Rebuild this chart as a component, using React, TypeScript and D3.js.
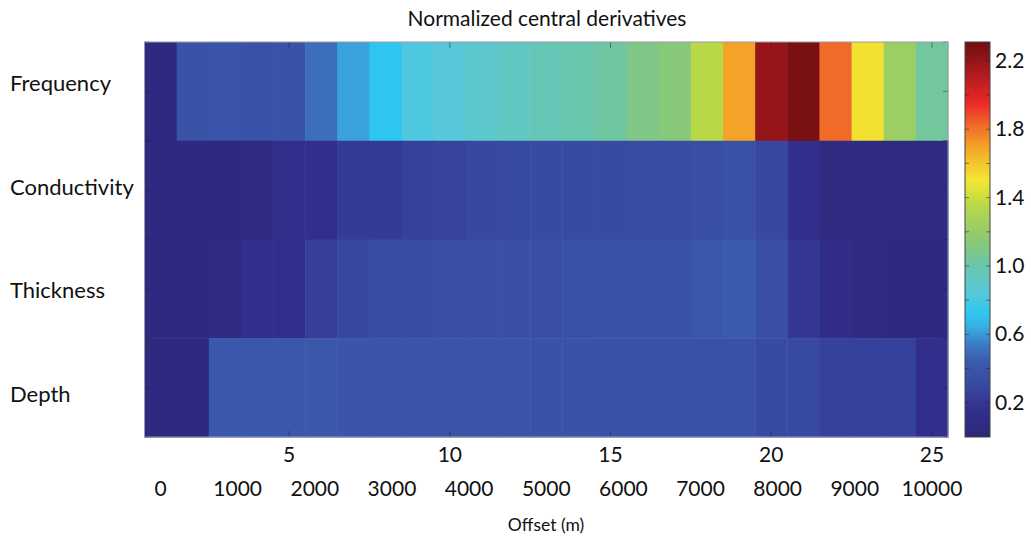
import React from "react";
import * as d3 from "d3";

const rowLabels = ["Frequency", "Conductivity", "Thickness", "Depth"];
const columns = d3.range(1, 26);
const frequency = [0.05, 0.38, 0.4, 0.37, 0.38, 0.5, 0.62, 0.72, 0.82, 0.85, 0.89, 0.93, 0.97, 1.0, 1.03, 1.1, 1.13, 1.35, 1.7, 2.2, 2.28, 1.82, 1.52, 1.22, 1.04];
const conductivity = [0.05, 0.06, 0.06, 0.07, 0.14, 0.15, 0.22, 0.22, 0.26, 0.27, 0.3, 0.31, 0.32, 0.32, 0.32, 0.33, 0.33, 0.35, 0.37, 0.3, 0.14, 0.07, 0.07, 0.07, 0.07];
const thickness = [0.06, 0.06, 0.07, 0.14, 0.15, 0.24, 0.3, 0.33, 0.34, 0.35, 0.35, 0.36, 0.36, 0.37, 0.37, 0.37, 0.38, 0.42, 0.44, 0.35, 0.2, 0.12, 0.07, 0.06, 0.06];
const depth = [0.05, 0.06, 0.42, 0.42, 0.41, 0.41, 0.4, 0.4, 0.4, 0.39, 0.39, 0.39, 0.38, 0.38, 0.37, 0.37, 0.37, 0.37, 0.37, 0.32, 0.31, 0.26, 0.26, 0.26, 0.15];
const series = [frequency, conductivity, thickness, depth];
const xTicks = [5, 10, 15, 20, 25];
const offsetTicks = [0, 1000, 2000, 3000, 4000, 5000, 6000, 7000, 8000, 9000, 10000];
const colorTicks = [0.2, 0.6, 1.0, 1.4, 1.8, 2.2];
const colorMinorTicks = [0.2, 0.4, 0.6, 0.8, 1.0, 1.2, 1.4, 1.6, 1.8, 2.0, 2.2];
const cmapStops = [0.0, 0.15, 0.3, 0.45, 0.55, 0.65, 0.72, 0.85, 1.0, 1.15, 1.35, 1.5, 1.7, 1.82, 1.95, 2.1, 2.31];
const cmapColors = ["#2c2878", "#322e8c", "#3848a0", "#3b5cae", "#3c80c8", "#38b0e4", "#2ec6f0", "#58c8d8", "#68c6ac", "#8cc874", "#b8d848", "#f2e832", "#f5a228", "#f06a28", "#ec2a26", "#b81c20", "#6e0e10"];

const FONT = "Lato, 'Open Sans', sans-serif";

export default function App() {
  const W = 1031, H = 538;
  const plot = { left: 144.5, right: 948, top: 42, bottom: 437 };
  const x = d3.scaleLinear().domain([0.5, 25.5]).range([plot.left, plot.right]);
  const y = d3.scaleLinear().domain([0.5, 4.5]).range([plot.top, plot.bottom]);
  const offsetToCol = d3.scaleLinear().domain([0, 10000]).range([1, 25]);
  const labelY = d3.scalePoint<string>().domain(rowLabels).range([84, 395]);
  const color = d3.scaleLinear<string>().domain(cmapStops).range(cmapColors).interpolate(d3.interpolateRgb).clamp(true);
  const cb = { left: 965, right: 990 };
  const cy = d3.scaleLinear().domain([0, 2.31]).range([plot.bottom, plot.top]);
  const cellW = x(1.5) - x(0.5);
  const cellH = y(1.5) - y(0.5);
  const yTickVals = d3.range(0.5, 4.51, 0.5);

  return (
    <svg width={W} height={H} style={{ position: "absolute", left: 0, top: 0, background: "#fff" }}>
      <defs>
        <linearGradient id="cbar" x1="0" y1="1" x2="0" y2="0">
          {cmapStops.map((s, i) => (
            <stop key={i} offset={s / 2.31} stopColor={cmapColors[i]} />
          ))}
        </linearGradient>
      </defs>
      <text x={547} y={26} textAnchor="middle" fontFamily={FONT} fontSize={21} fill="#111">
        Normalized central derivatives
      </text>
      {series.map((vals, r) =>
        vals.map((v, c) => (
          <rect
            key={`${r}-${c}`}
            x={x(columns[c]) - cellW / 2}
            y={y(r + 1) - cellH / 2}
            width={cellW + 0.5}
            height={cellH + 0.5}
            fill={color(v)}
          />
        ))
      )}
      {xTicks.map((t) => (
        <g key={t}>
          <line x1={x(t)} x2={x(t)} y1={plot.bottom} y2={plot.bottom - 6} stroke="#222" strokeOpacity={0.5} />
          <line x1={x(t)} x2={x(t)} y1={plot.top} y2={plot.top + 6} stroke="#222" strokeOpacity={0.5} />
          <text x={x(t)} y={462} textAnchor="middle" fontFamily={FONT} fontSize={21} fill="#111">
            {t}
          </text>
        </g>
      ))}
      {yTickVals.map((t) => (
        <g key={t}>
          <line x1={plot.left} x2={plot.left + 5} y1={y(t)} y2={y(t)} stroke="#222" strokeOpacity={0.45} />
          <line x1={plot.right} x2={plot.right - 5} y1={y(t)} y2={y(t)} stroke="#222" strokeOpacity={0.45} />
        </g>
      ))}
      <rect x={plot.left} y={plot.top} width={plot.right - plot.left} height={plot.bottom - plot.top} fill="none" stroke="#9a9aa8" strokeWidth={1} />
      {offsetTicks.map((o) => (
        <text key={o} x={x(offsetToCol(o))} y={496} textAnchor="middle" fontFamily={FONT} fontSize={21} fill="#111">
          {o}
        </text>
      ))}
      <text x={546} y={531} textAnchor="middle" fontFamily={FONT} fontSize={17.5} fill="#111">
        Offset (m)
      </text>
      {rowLabels.map((l) => (
        <text key={l} x={10} y={labelY(l)! + 7} fontFamily={FONT} fontSize={22} fill="#111">
          {l}
        </text>
      ))}
      <rect x={cb.left} y={plot.top} width={cb.right - cb.left} height={plot.bottom - plot.top} fill="url(#cbar)" stroke="#444" strokeWidth={1} />
      {colorMinorTicks.map((t) => (
        <g key={t}>
          <line x1={cb.left} x2={cb.left + 4} y1={cy(t)} y2={cy(t)} stroke="#222" strokeOpacity={0.5} />
          <line x1={cb.right} x2={cb.right - 4} y1={cy(t)} y2={cy(t)} stroke="#222" strokeOpacity={0.5} />
        </g>
      ))}
      {colorTicks.map((t) => (
        <text key={t} x={995} y={cy(t) + 7} fontFamily={FONT} fontSize={21} fill="#111">
          {t.toFixed(1)}
        </text>
      ))}
    </svg>
  );
}
